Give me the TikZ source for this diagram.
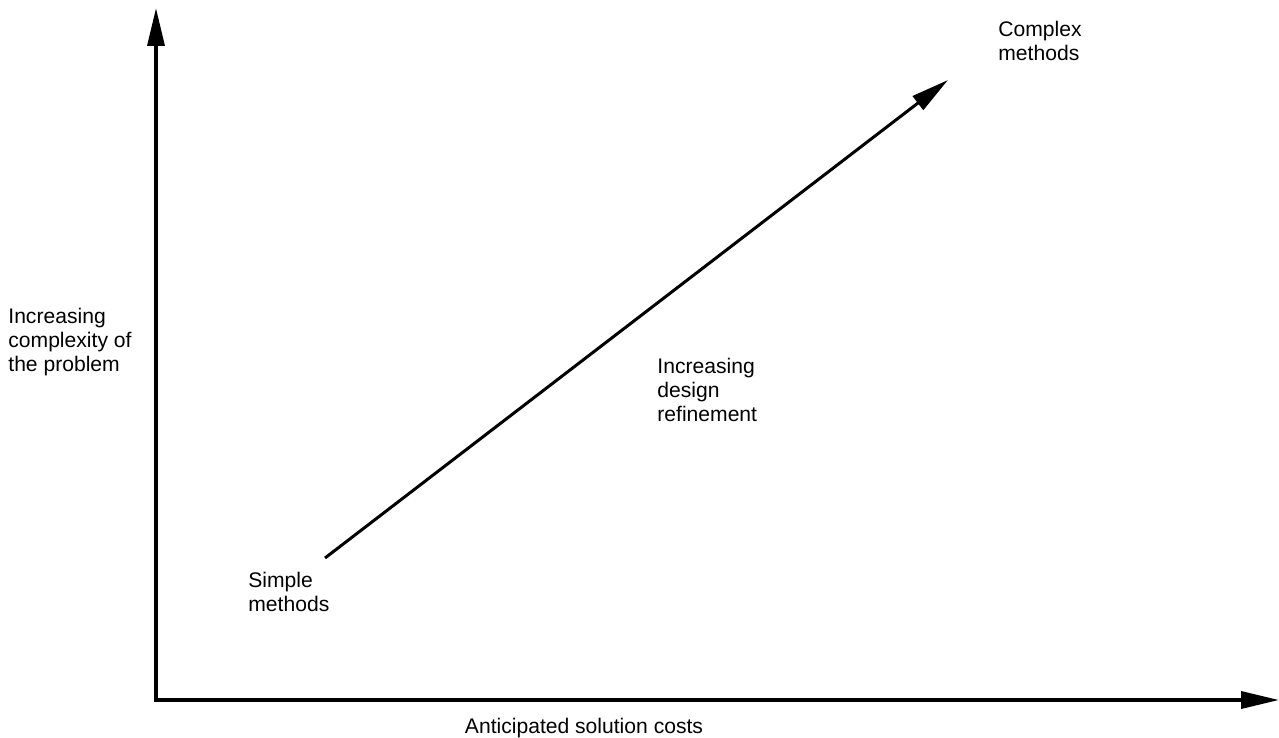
\documentclass[tikz,border=0pt]{standalone}
\usepackage{fontspec}
\setmainfont{Liberation Sans}
\usetikzlibrary{arrows.meta}

\begin{document}
\begin{tikzpicture}[x=0.5pt, y=-0.5pt, >={Triangle[length=19pt, width=8.5pt]},
    lbl/.style={inner sep=0pt, align=left, font=\fontsize{10.55}{12}\selectfont}]
    \useasboundingbox (0,0) rectangle (1279,738);

    % Axes
    \coordinate (O) at (156,700);
    \coordinate (ytip) at (156,8);
    \coordinate (xtip) at (1279,700);
    \draw[<->, line width=1.75pt] (ytip) -- (O) -- (xtip);

    % Axis labels (base = last line)
    \node[lbl, anchor=base west] (ylab) at (8,371) {Increasing\\complexity of\\the problem};
    \node[lbl, anchor=base] (xlab) at (584,733) {Anticipated solution costs};

    % Refinement arrow
    \coordinate (simple) at (325,558);
    \coordinate (complex) at (948,80);
    \draw[->, line width=1.5pt] (simple) -- (complex);

    \node[lbl, anchor=base west] (simplelab) at (248,611) {Simple\\methods};
    \node[lbl, anchor=base west] (complexlab) at (998,61) {Complex\\methods};
    \node[lbl, anchor=base west] (refine) at (657,421) {Increasing\\design\\refinement};
\end{tikzpicture}
\end{document}
